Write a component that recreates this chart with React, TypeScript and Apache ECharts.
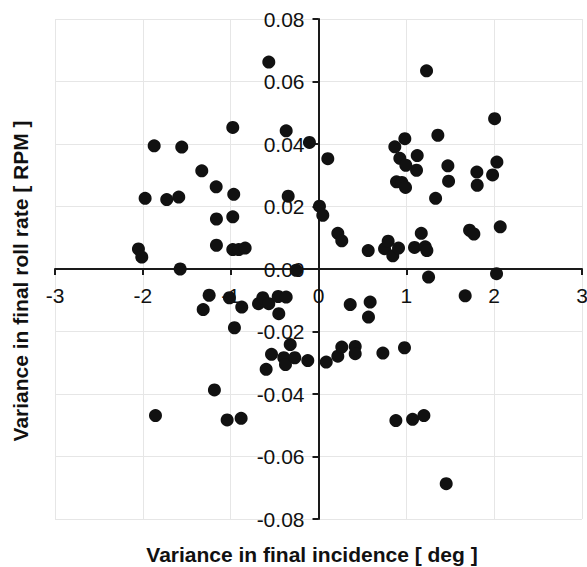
import React, { useEffect, useRef } from "react";
import * as echarts from "echarts";

const xTicks = { min: -3, max: 3, step: 1 };
const yTicks = { min: -0.08, max: 0.08, step: 0.02 };
const xTitle = "Variance in final incidence [ deg ]";
const yTitle = "Variance in final roll rate [ RPM ]";

// [incidence variance (deg), roll rate variance (RPM)]
const upperLeft: [number, number][] = [
  [-0.566, 0.0662], [-0.976, 0.0453], [-0.368, 0.0442], [-1.871, 0.0394],
  [-1.557, 0.039], [-1.329, 0.0314], [-1.165, 0.0263], [-0.965, 0.0239],
  [-0.345, 0.0233], [-1.974, 0.0226], [-1.728, 0.0222], [-1.591, 0.023],
  [-1.162, 0.016], [-0.976, 0.0167], [-1.162, 0.0076], [-0.976, 0.0062],
  [-0.908, 0.0062], [-0.835, 0.0067], [-2.05, 0.0064], [-2.012, 0.0038],
  [-1.575, 0.0], [-0.103, 0.0405], [-0.254, -0.0004],
];
const upperRight: [number, number][] = [
  [0.106, 0.0353], [0.011, 0.0201], [0.049, 0.0172], [0.22, 0.0114],
  [0.265, 0.009], [0.566, 0.0059], [0.752, 0.0065], [0.793, 0.0089],
  [0.846, 0.0042], [0.911, 0.0067], [1.093, 0.0069], [1.17, 0.0114],
  [1.215, 0.0071], [1.234, 0.0059], [1.23, 0.0634], [0.869, 0.0391],
  [0.983, 0.0417], [0.926, 0.0354], [0.994, 0.0332], [1.124, 0.0363],
  [1.116, 0.0316], [0.888, 0.0279], [0.949, 0.0277], [0.991, 0.0261],
  [1.359, 0.0428], [1.473, 0.033], [1.481, 0.0281], [1.333, 0.0226],
  [1.803, 0.031], [1.807, 0.0268], [1.982, 0.0301], [2.031, 0.0342],
  [2.005, 0.0481], [1.72, 0.0124], [1.769, 0.0112], [2.069, 0.0135],
];
const lowerRight: [number, number][] = [
  [1.253, -0.0026], [2.027, -0.0015], [0.088, -0.0298], [0.22, -0.0279],
  [0.265, -0.025], [0.361, -0.0114], [0.418, -0.0248], [0.418, -0.0271],
  [0.588, -0.0106], [0.569, -0.0154], [0.733, -0.0269], [0.979, -0.0252],
  [0.881, -0.0485], [1.071, -0.0481], [1.2, -0.0469], [1.454, -0.0687],
  [1.67, -0.0086],
];
const lowerLeft: [number, number][] = [
  [-1.245, -0.0084], [-1.313, -0.013], [-1.014, -0.0092], [-0.874, -0.0122],
  [-0.957, -0.0188], [-1.185, -0.0387], [-1.856, -0.0469], [-1.04, -0.0483],
  [-0.881, -0.0478], [-0.683, -0.0111], [-0.634, -0.0092], [-0.566, -0.0111],
  [-0.459, -0.0088], [-0.368, -0.009], [-0.452, -0.0143], [-0.322, -0.0242],
  [-0.535, -0.0273], [-0.395, -0.0284], [-0.376, -0.0306], [-0.27, -0.0284],
  [-0.596, -0.0321], [-0.122, -0.0293],
];

const points = [...upperLeft, ...upperRight, ...lowerRight, ...lowerLeft];

const FONT = "'Liberation Sans', Arial, sans-serif";
const W = 587;
const H = 567;
const GRID = { left: 55, right: 5, top: 19, bottom: 48 };

export default function App() {
  const ref = useRef<HTMLDivElement>(null);
  useEffect(() => {
    document.body.style.margin = "0";
    if (!ref.current) return;
    const chart = echarts.init(ref.current, undefined, { renderer: "svg" });
    const gw = W - GRID.left - GRID.right;
    const gh = H - GRID.top - GRID.bottom;
    // distance from grid edge to the zero lines
    const xZeroFromLeft = (gw * (0 - xTicks.min)) / (xTicks.max - xTicks.min);
    const yZeroFromBottom = (gh * (0 - yTicks.min)) / (yTicks.max - yTicks.min);
    chart.setOption({
      animation: false,
      backgroundColor: "#ffffff",
      grid: { ...GRID, containLabel: false, outerBoundsMode: "none" },
      xAxis: {
        type: "value",
        position: "bottom",
        offset: -yZeroFromBottom,
        min: xTicks.min,
        max: xTicks.max,
        interval: xTicks.step,
        axisLine: { onZero: false, lineStyle: { color: "#1a1a1a", width: 2 } },
        axisTick: { show: true, length: 6, lineStyle: { color: "#1a1a1a", width: 2 } },
        axisLabel: {
          color: "#111",
          fontSize: 21,
          fontFamily: FONT,
          margin: 16,
          formatter: (v: number) => String(Math.round(v)),
        },
        splitLine: { show: true, lineStyle: { color: "#e6e6e6", width: 1 } },
      },
      yAxis: {
        type: "value",
        position: "left",
        offset: -xZeroFromLeft,
        min: yTicks.min,
        max: yTicks.max,
        interval: yTicks.step,
        axisLine: { onZero: false, lineStyle: { color: "#1a1a1a", width: 2 } },
        axisTick: { show: true, length: 6, lineStyle: { color: "#1a1a1a", width: 2 } },
        axisLabel: {
          color: "#111",
          fontSize: 21,
          fontFamily: FONT,
          margin: 14,
          formatter: (v: number) => v.toFixed(2),
        },
        splitLine: { show: true, lineStyle: { color: "#e6e6e6", width: 1 } },
      },
      series: [
        {
          type: "scatter",
          data: points,
          symbol: "circle",
          symbolSize: 13,
          itemStyle: { color: "#111111", opacity: 1 },
          z: 3,
        },
      ],
      graphic: [
        {
          type: "text",
          x: 312,
          y: 554,
          style: {
            text: xTitle,
            fontSize: 21,
            fontWeight: "bold",
            fontFamily: FONT,
            fill: "#111",
            align: "center",
            verticalAlign: "middle",
          },
        },
        {
          type: "text",
          x: 20,
          y: 281,
          rotation: Math.PI / 2,
          style: {
            text: yTitle,
            fontSize: 21,
            fontWeight: "bold",
            fontFamily: FONT,
            fill: "#111",
            align: "center",
            verticalAlign: "middle",
          },
        },
      ],
    });
    return () => chart.dispose();
  }, []);
  return <div ref={ref} style={{ width: W, height: H }} />;
}
